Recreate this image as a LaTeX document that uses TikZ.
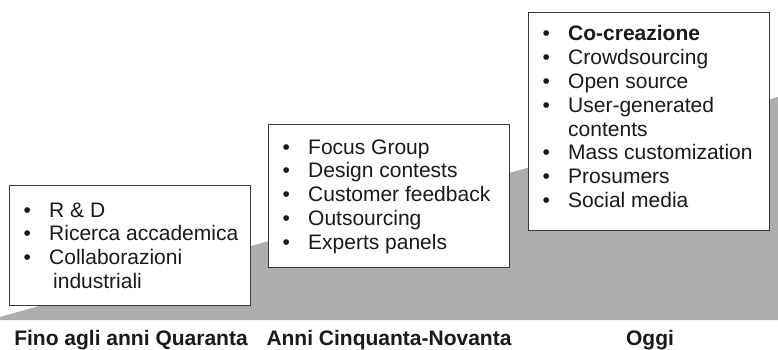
\documentclass[tikz,border=0pt]{standalone}
\usepackage{fontspec}
\setmainfont{Liberation Sans}
\newcommand\mybul{\makebox[25.7pt][l]{\textbullet}}
\definecolor{grayfill}{HTML}{ADADAD}
\definecolor{boxline}{HTML}{3A3A3A}
\definecolor{txt}{HTML}{1A1A1A}
\tikzset{
  boxst/.style={draw=boxline, line width=1pt, fill=white, inner sep=0pt, anchor=north west},
  listst/.style={inner sep=0pt, anchor=base west, text=txt, font=\fontsize{21}{23.8}\selectfont},
  labst/.style={inner sep=0pt, anchor=base, text=txt, font=\fontsize{21}{24}\selectfont\bfseries}
}
\begin{document}
\begin{tikzpicture}[x=1pt,y=-1pt]
\useasboundingbox (0,0) rectangle (778,350);
\fill[grayfill] (0,320) -- (778,320) -- (778,97) -- (0,317) -- cycle;
% boxes
\node[boxst, minimum width=241pt, minimum height=120pt] (b1) at (9,185) {};
\node[boxst, minimum width=241pt, minimum height=143pt] (b2) at (268,124) {};
\node[boxst, minimum width=241pt, minimum height=218pt] (b3) at (528,12) {};
% lists
\node[listst] (t1) at (23.3,217) {\begin{tabular}[t]{@{}l@{}l@{}}
\mybul & R \& D\\
\mybul & Ricerca accademica\\
\mybul & Collaborazioni\\
 & \hspace{4pt}industriali
\end{tabular}};
\node[listst] (t2) at (282.3,154) {\begin{tabular}[t]{@{}l@{}l@{}}
\mybul & Focus Group\\
\mybul & Design contests\\
\mybul & Customer feedback\\
\mybul & Outsourcing\\
\mybul & Experts panels
\end{tabular}};
\node[listst] (t3) at (542.3,41) {\begin{tabular}[t]{@{}l@{}l@{}}
\mybul & \textbf{Co-creazione}\\
\mybul & Crowdsourcing\\
\mybul & Open source\\
\mybul & User-generated\\
 & contents\\
\mybul & Mass customization\\
\mybul & Prosumers\\
\mybul & Social media
\end{tabular}};
% labels
\node[labst] (l1) at (131,345) {Fino agli anni Quaranta};
\node[labst] (l2) at (389,345) {Anni Cinquanta-Novanta};
\node[labst] (l3) at (650,345) {Oggi};
\end{tikzpicture}
\end{document}
